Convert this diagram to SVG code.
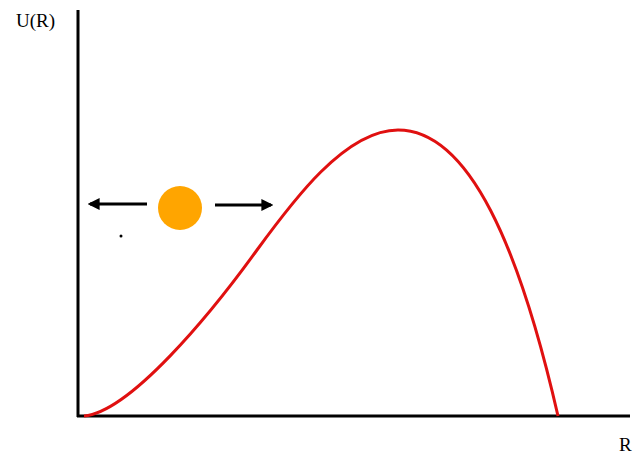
<svg xmlns="http://www.w3.org/2000/svg" width="634" height="454" viewBox="0 0 634 454">
<style>
.ax{stroke:#000;stroke-width:3;fill:none}
.lbl{font-family:"Liberation Serif",serif;font-size:19px;fill:#000}
.arr{stroke:#000;stroke-width:3;fill:none}
</style>
<defs>
<marker id="ah" viewBox="0 0 10 10" refX="8" refY="5" markerWidth="4" markerHeight="4" orient="auto"><path d="M0,0L10,5L0,10z" fill="#000"/></marker>
</defs>
<rect width="634" height="454" fill="#fff"/>
<g id="axes">
<line class="ax" x1="78" y1="10" x2="78" y2="417"/>
<line class="ax" x1="77" y1="416" x2="630" y2="416"/>
</g>
<text class="lbl" x="16" y="27">U(R)</text>
<text class="lbl" x="619" y="451">R</text>
<path id="curve" d="M84,416 C130,412 210,315 257,250 C292,202 345,130 398,130 C470,130 520,250 558,416" stroke="#e01010" stroke-width="3" fill="none"/>
<g id="particle">
<circle cx="180" cy="208" r="22" fill="#ffa500"/>
</g>
<g id="connectors">
<line class="arr" x1="147" y1="204" x2="90" y2="204" marker-end="url(#ah)"/>
<line class="arr" x1="215" y1="205" x2="271" y2="205" marker-end="url(#ah)"/>
</g>
<circle cx="121" cy="236" r="1.5" fill="#000"/>
</svg>
